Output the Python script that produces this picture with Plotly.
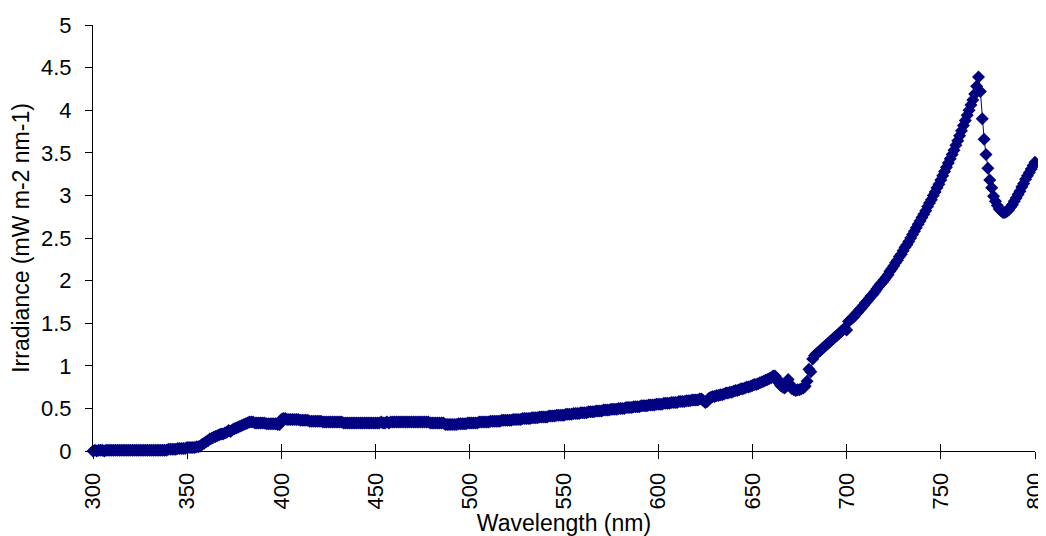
import plotly.graph_objects as go

wl_start = 300
wl_end = 800

irr_300 = [0.00, 0.01, 0.00, 0.01, 0.01, 0.01, 0.00, 0.01, 0.01, 0.01]
irr_310 = [0.01, 0.01, 0.01, 0.01, 0.01, 0.01, 0.01, 0.01, 0.01, 0.01]
irr_320 = [0.01, 0.01, 0.01, 0.01, 0.01, 0.01, 0.01, 0.01, 0.01, 0.01]
irr_330 = [0.01, 0.01, 0.01, 0.01, 0.01, 0.01, 0.01, 0.01, 0.01, 0.01]
irr_340 = [0.02, 0.02, 0.02, 0.02, 0.02, 0.03, 0.03, 0.03, 0.03, 0.03]
irr_350 = [0.04, 0.04, 0.04, 0.04, 0.04, 0.05, 0.05, 0.06, 0.08, 0.09]
irr_360 = [0.11, 0.12, 0.14, 0.15, 0.16, 0.17, 0.18, 0.19, 0.20, 0.20]
irr_370 = [0.21, 0.22, 0.24, 0.23, 0.25, 0.26, 0.27, 0.28, 0.29, 0.30]
irr_380 = [0.31, 0.32, 0.33, 0.34, 0.34, 0.34, 0.33, 0.33, 0.33, 0.33]
irr_390 = [0.33, 0.33, 0.32, 0.32, 0.32, 0.32, 0.32, 0.32, 0.31, 0.31]
irr_400 = [0.37, 0.38, 0.38, 0.37, 0.37, 0.37, 0.37, 0.37, 0.37, 0.37]
irr_410 = [0.36, 0.36, 0.36, 0.36, 0.36, 0.35, 0.35, 0.35, 0.35, 0.35]
irr_420 = [0.35, 0.35, 0.34, 0.34, 0.34, 0.34, 0.34, 0.34, 0.34, 0.34]
irr_430 = [0.34, 0.34, 0.34, 0.33, 0.33, 0.33, 0.33, 0.33, 0.33, 0.33]
irr_440 = [0.33, 0.33, 0.33, 0.33, 0.33, 0.33, 0.33, 0.33, 0.33, 0.33]
irr_450 = [0.33, 0.33, 0.33, 0.34, 0.33, 0.33, 0.34, 0.33, 0.34, 0.34]
irr_460 = [0.34, 0.34, 0.34, 0.34, 0.34, 0.34, 0.34, 0.34, 0.34, 0.34]
irr_470 = [0.34, 0.34, 0.34, 0.34, 0.34, 0.34, 0.34, 0.34, 0.34, 0.33]
irr_480 = [0.33, 0.33, 0.33, 0.33, 0.33, 0.33, 0.33, 0.31, 0.31, 0.31]
irr_490 = [0.31, 0.31, 0.31, 0.31, 0.32, 0.32, 0.32, 0.32, 0.32, 0.33]
irr_500 = [0.33, 0.33, 0.33, 0.33, 0.33, 0.34, 0.34, 0.34, 0.34, 0.34]
irr_510 = [0.34, 0.35, 0.35, 0.35, 0.35, 0.35, 0.35, 0.36, 0.36, 0.36]
irr_520 = [0.36, 0.36, 0.36, 0.37, 0.37, 0.37, 0.37, 0.37, 0.38, 0.38]
irr_530 = [0.38, 0.38, 0.38, 0.39, 0.39, 0.39, 0.39, 0.40, 0.40, 0.40]
irr_540 = [0.40, 0.40, 0.41, 0.41, 0.41, 0.41, 0.42, 0.42, 0.42, 0.42]
irr_550 = [0.42, 0.43, 0.43, 0.43, 0.43, 0.44, 0.44, 0.44, 0.44, 0.45]
irr_560 = [0.45, 0.45, 0.45, 0.46, 0.46, 0.46, 0.46, 0.47, 0.47, 0.47]
irr_570 = [0.47, 0.48, 0.48, 0.48, 0.48, 0.49, 0.49, 0.49, 0.49, 0.50]
irr_580 = [0.50, 0.50, 0.50, 0.51, 0.51, 0.51, 0.51, 0.52, 0.52, 0.52]
irr_590 = [0.52, 0.53, 0.53, 0.53, 0.53, 0.54, 0.54, 0.54, 0.54, 0.55]
irr_600 = [0.55, 0.55, 0.55, 0.56, 0.56, 0.56, 0.56, 0.57, 0.57, 0.57]
irr_610 = [0.57, 0.58, 0.58, 0.58, 0.58, 0.59, 0.59, 0.59, 0.60, 0.60]
irr_620 = [0.60, 0.60, 0.61, 0.61, 0.59, 0.57, 0.58, 0.62, 0.63, 0.64]
irr_630 = [0.64, 0.65, 0.65, 0.66, 0.66, 0.67, 0.68, 0.68, 0.69, 0.69]
irr_640 = [0.70, 0.71, 0.71, 0.72, 0.73, 0.73, 0.74, 0.75, 0.75, 0.76]
irr_650 = [0.77, 0.78, 0.78, 0.79, 0.80, 0.81, 0.82, 0.83, 0.84, 0.85]
irr_660 = [0.86, 0.88, 0.88, 0.85, 0.80, 0.77, 0.75, 0.74, 0.76, 0.84]
irr_670 = [0.78, 0.73, 0.72, 0.71, 0.72, 0.72, 0.73, 0.74, 0.76, 0.82]
irr_680 = [0.96, 0.93, 1.08, 1.12, 1.14, 1.16, 1.18, 1.20, 1.22, 1.24]
irr_690 = [1.26, 1.28, 1.30, 1.32, 1.34, 1.36, 1.38, 1.40, 1.42, 1.44]
irr_700 = [1.42, 1.52, 1.54, 1.56, 1.58, 1.61, 1.63, 1.66, 1.68, 1.71]
irr_710 = [1.74, 1.76, 1.79, 1.82, 1.84, 1.87, 1.90, 1.93, 1.96, 1.98]
irr_720 = [2.01, 2.04, 2.07, 2.11, 2.14, 2.17, 2.21, 2.24, 2.28, 2.31]
irr_730 = [2.35, 2.39, 2.42, 2.46, 2.50, 2.54, 2.58, 2.62, 2.66, 2.70]
irr_740 = [2.74, 2.78, 2.82, 2.87, 2.91, 2.95, 3.00, 3.04, 3.09, 3.13]
irr_750 = [3.18, 3.23, 3.28, 3.33, 3.38, 3.43, 3.48, 3.53, 3.59, 3.64]
irr_760 = [3.70, 3.76, 3.82, 3.88, 3.94, 4.00, 4.06, 4.12, 4.19, 4.28]
irr_770 = [4.39, 4.22, 3.90, 3.66, 3.48, 3.32, 3.18, 3.09, 2.99, 2.93]
irr_780 = [2.88, 2.84, 2.82, 2.80, 2.80, 2.81, 2.83, 2.86, 2.89, 2.93]
irr_790 = [2.97, 3.01, 3.05, 3.10, 3.14, 3.19, 3.23, 3.27, 3.31, 3.35]
irr_800 = [3.39]

irradiance = (irr_300 + irr_310 + irr_320 + irr_330 + irr_340 + irr_350 + irr_360
              + irr_370 + irr_380 + irr_390 + irr_400 + irr_410 + irr_420 + irr_430
              + irr_440 + irr_450 + irr_460 + irr_470 + irr_480 + irr_490 + irr_500
              + irr_510 + irr_520 + irr_530 + irr_540 + irr_550 + irr_560 + irr_570
              + irr_580 + irr_590 + irr_600 + irr_610 + irr_620 + irr_630 + irr_640
              + irr_650 + irr_660 + irr_670 + irr_680 + irr_690 + irr_700 + irr_710
              + irr_720 + irr_730 + irr_740 + irr_750 + irr_760 + irr_770 + irr_780
              + irr_790 + irr_800)
wavelength = list(range(wl_start, wl_end + 1))

x_ticks = [300, 350, 400, 450, 500, 550, 600, 650, 700, 750, 800]
y_ticks = [0, 0.5, 1, 1.5, 2, 2.5, 3, 3.5, 4, 4.5, 5]

NAVY = "#000080"
FONT = "Liberation Sans, Arial, sans-serif"

fig = go.Figure()
fig.add_trace(go.Scatter(
    x=wavelength, y=irradiance, mode="lines+markers",
    line=dict(color=NAVY, width=1),
    marker=dict(symbol="diamond", size=10, color=NAVY, line=dict(width=0)),
    showlegend=False, cliponaxis=False,
))
fig.add_trace(go.Scatter(x=[], y=[], xaxis="x2", showlegend=False, hoverinfo="skip"))

# page body keeps an 8px default margin, so the figure is 8px smaller
fig.update_layout(
    width=1038, height=528,
    margin=dict(l=85, r=11, t=17, b=85),
    paper_bgcolor="white", plot_bgcolor="white",
    font=dict(family=FONT, size=22, color="black"),
    xaxis=dict(
        range=[wl_start, wl_end], tickvals=x_ticks, ticktext=[str(v) for v in x_ticks],
        tickangle=-90, showline=True, linecolor="black", linewidth=1,
        ticks="outside", ticklen=7, tickcolor="black", showgrid=False, zeroline=False,
        ticklabelstandoff=5, automargin=False, ticklabeloverflow="allow",
        title=dict(text="Wavelength (nm)", standoff=6, font=dict(size=23)),
    ),
    xaxis2=dict(
        range=[wl_start, wl_end], tickvals=x_ticks, overlaying="x", anchor="y",
        side="bottom", showticklabels=False, ticks="inside", ticklen=7,
        tickcolor="black", showgrid=False, zeroline=False, showline=False,
        automargin=False,
    ),
    yaxis=dict(
        range=[0, 5], tickvals=y_ticks, ticktext=[f"{v:g}" for v in y_ticks],
        showline=True, linecolor="black", linewidth=1,
        ticks="outside", ticklen=7, tickcolor="black", showgrid=False, zeroline=False,
        ticklabelstandoff=9, automargin=False, ticklabeloverflow="allow",
        title=dict(text="Irradiance (mW m-2 nm-1)", standoff=6, font=dict(size=23)),
    ),
)

fig.write_html("out.html")
